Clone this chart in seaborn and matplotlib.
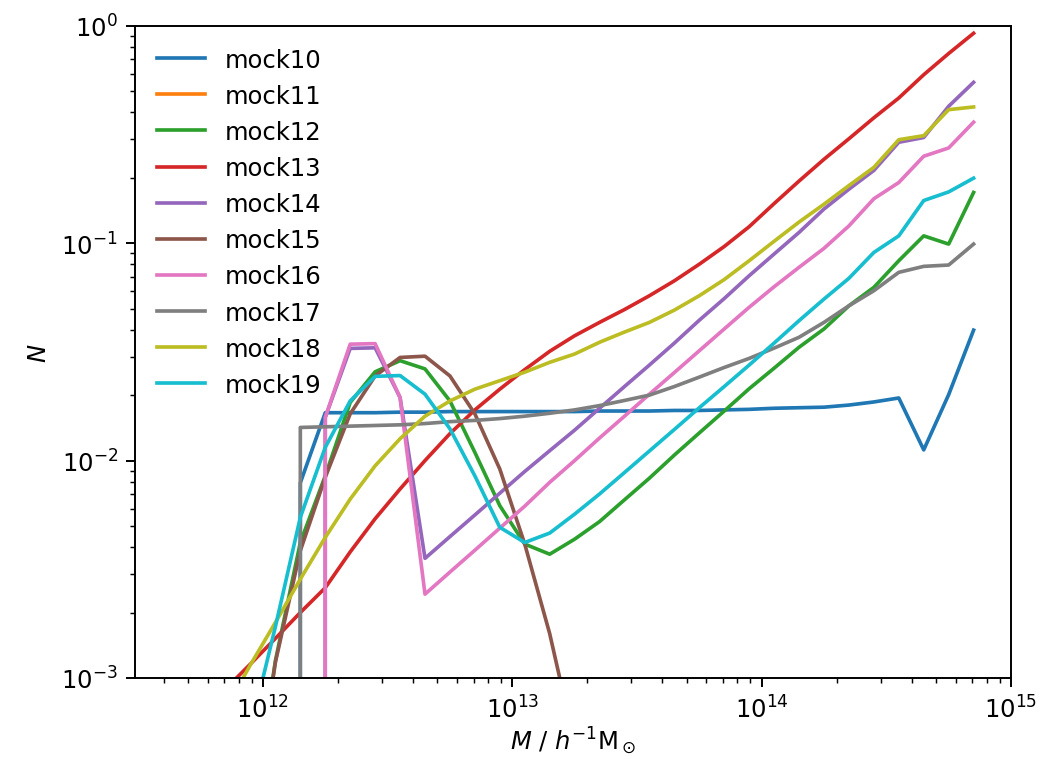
import numpy as np
import pandas as pd
import matplotlib
matplotlib.use("Agg")
import matplotlib.pyplot as plt
import seaborn as sns

# log10 of halo-mass bin centres (h^-1 Msun)
log_mass = [11.75, 11.85, 11.95, 12.05, 12.15, 12.25, 12.35, 12.45, 12.55, 12.65,
            12.75, 12.85, 12.95, 13.05, 13.15, 13.25, 13.35, 13.45, 13.55, 13.65,
            13.75, 13.85, 13.95, 14.05, 14.15, 14.25, 14.35, 14.45, 14.55, 14.65,
            14.75, 14.85]

mock10 = [0, 0, 0, 0, 0.0079, 0.0166, 0.0166, 0.0166, 0.0167, 0.0167,
          0.0168, 0.0168, 0.0168, 0.0168, 0.0168, 0.0168, 0.0169, 0.0169, 0.0169, 0.0170,
          0.0170, 0.0171, 0.0172, 0.0174, 0.0175, 0.0176, 0.0180, 0.0186, 0.0194, 0.0112,
          0.0201, 0.0398]
mock11 = [0] * 32
mock12 = [0, 0, 0.0002, 0.0012, 0.0042, 0.0085, 0.0185, 0.0256, 0.0288, 0.0264,
          0.0188, 0.0109, 0.0062, 0.00413, 0.00371, 0.00435, 0.00524, 0.0066, 0.0083, 0.0106,
          0.0134, 0.0169, 0.0214, 0.0266, 0.0332, 0.0403, 0.0515, 0.0626, 0.083, 0.108,
          0.099, 0.171]
mock13 = [0.00068, 0.00089, 0.00116, 0.00152, 0.0020, 0.0026, 0.0038, 0.0054, 0.0074, 0.0100,
          0.0133, 0.0171, 0.0213, 0.0262, 0.0318, 0.0375, 0.0432, 0.0495, 0.0573, 0.0671,
          0.080, 0.0965, 0.119, 0.152, 0.193, 0.243, 0.302, 0.377, 0.465, 0.595,
          0.745, 0.923]
mock14 = [0, 0, 0, 0, 0, 0.0158, 0.0328, 0.0330, 0.0195, 0.00355,
          0.00447, 0.00562, 0.00708, 0.00891, 0.0111, 0.0138, 0.0174, 0.0219, 0.0275, 0.0347,
          0.0442, 0.0556, 0.0708, 0.0891, 0.112, 0.1435, 0.177, 0.216, 0.291, 0.306,
          0.426, 0.549]
mock15 = [0, 0, 0.0002, 0.00118, 0.00385, 0.00837, 0.0164, 0.0245, 0.0298, 0.0302,
          0.0245, 0.0164, 0.00914, 0.00413, 0.0016, 0.0005, 0, 0, 0, 0,
          0, 0, 0, 0, 0, 0, 0, 0, 0, 0,
          0, 0]
mock16 = [0, 0, 0, 0, 0, 0.0158, 0.0343, 0.0345, 0.0195, 0.00243,
          0.00307, 0.00387, 0.00489, 0.00617, 0.00794, 0.0100, 0.0127, 0.0160, 0.0202, 0.0254,
          0.0320, 0.0403, 0.0507, 0.063, 0.0774, 0.0946, 0.120, 0.160, 0.190, 0.251,
          0.274, 0.360]
mock17 = [0, 0, 0, 0, 0.0142, 0.0143, 0.0144, 0.0145, 0.0146, 0.0148,
          0.0151, 0.0153, 0.0156, 0.0160, 0.0165, 0.0171, 0.0179, 0.0189, 0.0200, 0.0219,
          0.0242, 0.0268, 0.0295, 0.0329, 0.0369, 0.0432, 0.0515, 0.0604, 0.0734, 0.0782,
          0.0793, 0.099]
mock18 = [0.00045, 0.00072, 0.00115, 0.0018, 0.00285, 0.00443, 0.00665, 0.00946, 0.0126, 0.0160,
          0.0188, 0.0213, 0.0233, 0.0255, 0.0283, 0.0309, 0.0350, 0.0390, 0.0432, 0.0492,
          0.0573, 0.068, 0.083, 0.102, 0.125, 0.151, 0.184, 0.223, 0.299, 0.312,
          0.411, 0.423]
mock19 = [0, 0, 0.00058, 0.00172, 0.00548, 0.0115, 0.0188, 0.0244, 0.0246, 0.0202,
          0.0140, 0.0085, 0.00493, 0.0042, 0.00464, 0.00567, 0.00702, 0.00881, 0.01107, 0.0139,
          0.0175, 0.0219, 0.0275, 0.0347, 0.0440, 0.0553, 0.0689, 0.0906, 0.108, 0.157,
          0.172, 0.199]

names = ["mock10", "mock11", "mock12", "mock13", "mock14",
         "mock15", "mock16", "mock17", "mock18", "mock19"]
series = [mock10, mock11, mock12, mock13, mock14,
          mock15, mock16, mock17, mock18, mock19]

mass = 10.0 ** np.array(log_mass)
frames = [pd.DataFrame({"M": mass, "N": vals, "mock": name})
          for name, vals in zip(names, series)]
df = pd.concat(frames, ignore_index=True)

fig = plt.figure(figsize=(6.0, 760 / 175), dpi=175)
ax = fig.add_axes([135 / 1050, 1 - 679 / 760, (1011 - 135) / 1050, (679 - 26.7) / 760])
ax.set_xscale("log")
ax.set_yscale("log")

sns.lineplot(data=df, x="M", y="N", hue="mock", hue_order=names,
             palette="tab10", errorbar=None, ax=ax, linewidth=1.5)

ax.set_xlim(10 ** 11.487, 1e15)
ax.set_ylim(1e-3, 1)
ax.set_xlabel(r"$M$ / $h^{-1}\mathrm{M}_\odot$", labelpad=1)
ax.set_ylabel(r"$N$")

sns.move_legend(ax, "upper left", frameon=False, title=None)

fig.savefig("out.png", dpi=175)
